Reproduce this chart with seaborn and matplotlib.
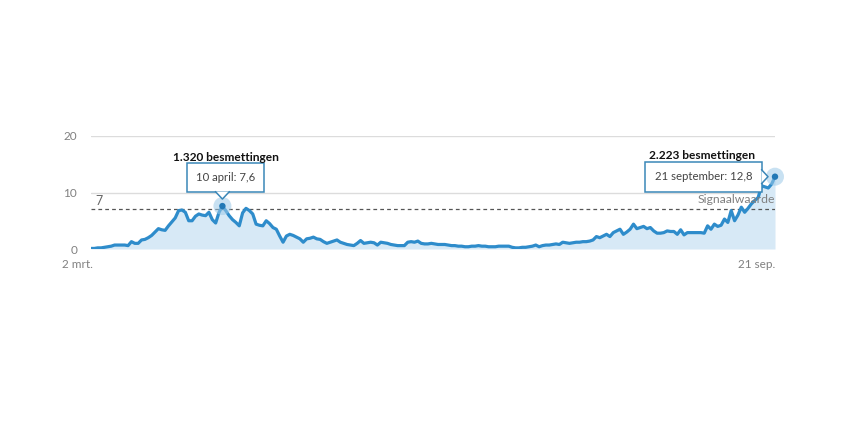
import numpy as np
import pandas as pd
import matplotlib
matplotlib.use('Agg')
import matplotlib.pyplot as plt
import matplotlib.dates as mdates
from matplotlib.patches import Polygon, Circle
from matplotlib.transforms import Affine2D, ScaledTranslation
import seaborn as sns

# 7-daags gemiddelde positieve tests per 100.000 inwoners, 2 maart t/m 21 september
start_date = '2020-03-02'
end_date = '2020-09-21'
values = [
    0.1, 0.1, 0.2, 0.2, 0.3, 0.4, 0.5, 0.7, 0.7, 0.7, 0.7, 0.6, 1.3, 1.0,
    1.0, 1.6, 1.7, 2.0, 2.4, 3.0, 3.6, 3.4, 3.3, 4.1, 4.8, 5.5, 6.8, 6.9,
    6.5, 5.0, 5.0, 5.8, 6.2, 6.0, 5.9, 6.5, 5.2, 4.6, 6.5, 7.6, 6.8, 5.9,
    5.2, 4.7, 4.1, 6.4, 7.2, 6.8, 6.2, 4.4, 4.2, 4.1, 5.0, 4.5, 3.8, 3.5,
    2.3, 1.2, 2.3, 2.6, 2.4, 2.1, 1.8, 1.2, 1.8, 1.9, 2.1, 1.8, 1.7, 1.3,
    1.0, 1.2, 1.4, 1.6, 1.2, 1.0, 0.8, 0.7, 0.6, 1.0, 1.5, 1.0, 1.1, 1.2,
    1.1, 0.7, 1.2, 1.1, 1.0, 0.8, 0.7, 0.6, 0.6, 0.6, 1.2, 1.3, 1.2, 1.4,
    1.0, 0.9, 0.9, 1.0, 0.9, 0.8, 0.8, 0.8, 0.7, 0.6, 0.6, 0.5, 0.5, 0.4,
    0.4, 0.5, 0.5, 0.6, 0.5, 0.5, 0.4, 0.4, 0.4, 0.5, 0.5, 0.5, 0.5, 0.3,
    0.2, 0.2, 0.3, 0.3, 0.4, 0.5, 0.7, 0.4, 0.6, 0.7, 0.7, 0.8, 0.9, 0.8,
    1.2, 1.1, 1.0, 1.1, 1.2, 1.2, 1.3, 1.3, 1.4, 1.6, 2.2, 2.0, 2.3, 2.6,
    2.2, 2.9, 3.2, 3.5, 2.6, 3.0, 3.5, 4.4, 3.6, 3.8, 4.0, 3.6, 3.8, 3.2,
    2.8, 2.8, 2.9, 3.2, 3.1, 3.1, 2.6, 3.4, 2.5, 2.9, 2.9, 2.9, 2.9, 2.9,
    2.8, 4.1, 3.5, 4.4, 4.0, 4.2, 5.3, 4.7, 6.8, 5.0, 6.0, 7.4, 6.5, 7.2,
    8.0, 8.6, 9.1, 11.2, 11.0, 10.8, 11.5, 12.8,
]
signal_value = 7
y_ticks = [0, 10, 20]
x_tick_labels = ['2 mrt.', '21 sep.']
signal_label = 'Signaalwaarde'

# uitgelichte punten: (datum, tooltip, kop)
highlights = [
    ('2020-04-10', '10 april: 7,6', '1.320 besmettingen'),
    ('2020-09-21', '21 september: 12,8', '2.223 besmettingen'),
]

dates = pd.date_range(start_date, end_date, freq='D')
assert len(dates) == len(values)
df = pd.DataFrame({'datum': dates, 'waarde': values})

sns.set_style('white')
plt.rcParams['font.family'] = ['Lato', 'DejaVu Sans']

line_col = '#2e8ccb'
fill_col = '#d7e9f6'
box_col = '#3a87b8'
grey = '#808080'

fig = plt.figure(figsize=(8.5, 4.25), dpi=100)
ax = fig.add_axes([91 / 850, 176 / 425, 684 / 850, 113 / 425])

ax.fill_between(df['datum'], df['waarde'], 0, color=fill_col, lw=0, zorder=1)
sns.lineplot(data=df, x='datum', y='waarde', ax=ax, color=line_col, lw=2.3, zorder=3)

ax.set_xlim(dates[0], dates[-1])
ax.set_ylim(0, 20)
for t in y_ticks:
    ax.axhline(t, color='#bdbdbd' if t == 0 else '#dcdcdc', lw=1, zorder=0)
ax.axhline(signal_value, color='#555555', lw=0.9, ls=(0, (3, 2.5)), zorder=2)

ax.set_yticks(y_ticks)
ax.set_yticklabels([str(t) for t in y_ticks], color=grey, fontsize=8.5)
ax.tick_params(axis='y', length=0, pad=10)
ax.set_xticks([])
ax.set_xlabel('')
ax.set_ylabel('')
for s in ax.spines.values():
    s.set_visible(False)

# x-as labels
ax.annotate(x_tick_labels[0], xy=(dates[0], 0), xytext=(-10, -11), textcoords='offset points',
            ha='center', va='center', color=grey, fontsize=8.5)
ax.annotate(x_tick_labels[1], xy=(dates[-1], 0), xytext=(0, -11), textcoords='offset points',
            ha='right', va='center', color=grey, fontsize=8.5)

# signaalwaarde
ax.annotate(str(signal_value), xy=(dates[0], signal_value), xytext=(3, 6), textcoords='offset points',
            ha='left', va='center', color='#666666', fontsize=9)
ax.annotate(signal_label, xy=(dates[-1], signal_value), xytext=(0, 7), textcoords='offset points',
            ha='right', va='center', color=grey, fontsize=8.8)


def px_trans(x, y):
    # pixelverschuiving rond een datapunt
    return Affine2D() + ScaledTranslation(mdates.date2num(x), y, ax.transData)


for i, (d, tip, head) in enumerate(highlights):
    d = pd.Timestamp(d)
    v = df.loc[df['datum'] == d, 'waarde'].iloc[0]
    tr = px_trans(d, v)
    ax.add_patch(Circle((0, 0), 9, transform=tr, color='#9cc9e8', alpha=0.55, lw=0,
                        zorder=6, clip_on=False))
    ax.add_patch(Circle((0, 0), 3.2, transform=tr, color='#2278b5', lw=0, zorder=7, clip_on=False))
    if i == 0:
        box_off = (2.2, 20.5)
        head_off = (2.2, 35.3)
        tri = [(-7, 14.5), (0, 7), (7, 14.5)]
    else:
        box_off = (-51.5, 0)
        head_off = (-52.5, 15.3)
        tri = [(-13.5, 7), (-7, 0), (-13.5, -7)]
    ax.annotate(tip, xy=(d, v), xytext=box_off, textcoords='offset points', ha='center', va='center',
                fontsize=8.2, color='#444444', zorder=8, annotation_clip=False,
                bbox=dict(boxstyle='square,pad=0.82', fc='white', ec=box_col, lw=1.1))
    ax.add_patch(Polygon(tri, closed=True, transform=tr, fc='white', ec='none', zorder=9, clip_on=False))
    ax.plot([p[0] for p in tri], [p[1] for p in tri], transform=tr, color=box_col, lw=1.1,
            zorder=10, clip_on=False)
    ax.annotate(head, xy=(d, v), xytext=head_off, textcoords='offset points', ha='center', va='center',
                fontsize=8.6, fontweight='bold', color='#111111', zorder=8, annotation_clip=False)

fig.savefig('out.png', dpi=100, facecolor='white')
